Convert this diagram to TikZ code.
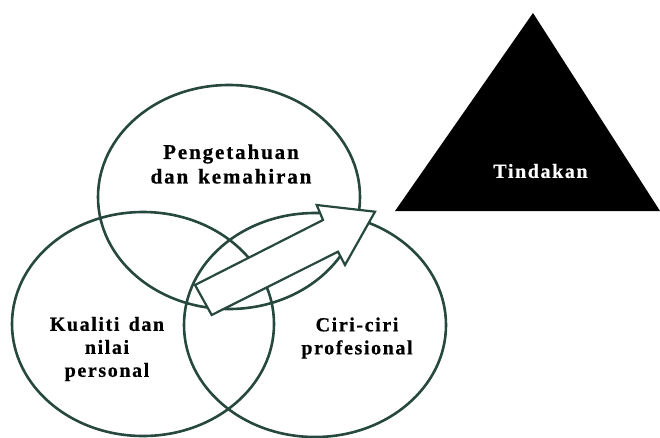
\documentclass[tikz,border=0pt]{standalone}
\usepackage{fontspec}
\usepackage{tikz}
\usetikzlibrary{shapes.geometric}
\usepackage{xcolor}
\setmainfont{Liberation Serif}
\newfontfamily\vennfont[LetterSpace=8, WordSpace=1.4, FakeBold=0.6]{Liberation Serif}
\newfontfamily\topfont[LetterSpace=9, WordSpace=1.4, FakeBold=0.6]{Liberation Serif}
\definecolor{venngreen}{RGB}{38, 72, 62}

\begin{document}
\begin{tikzpicture}[x=1pt, y=-1pt,
    vennset/.style={ellipse, draw=venngreen, line width=2.6pt,
        minimum width=262pt, minimum height=224pt, inner sep=0pt},
    vennlabel/.style={align=center, font=\fontsize{20}{23}\selectfont\vennfont\bfseries}]
            \useasboundingbox (0,0) rectangle (660,437);

            % three sets
            \node[vennset] (pengetahuan) at (229,197) {};
            \node[vennset] (kualiti) at (143,324) {};
            \node[vennset] (ciri) at (315,325) {};

            % block arrow
            \draw[venngreen, line width=2.2pt, fill=white, line join=miter]
                (211.7,315) -- (195,285) -- (323,220) -- (316.7,205)
                -- (375,211.7) -- (345,265) -- (338,251.7) -- cycle;

            % Tindakan
            \fill[black] (395,211) -- (533,13) -- (660,211) -- cycle;
            \node[white, font=\fontsize{20}{23}\selectfont\vennfont\bfseries] (tindakan) at (540.5,171) {Tindakan};

            % labels
            \node[vennlabel, font=\fontsize{21}{24.5}\selectfont\topfont\bfseries] (pengetahuantext) at (231,164) {Pengetahuan\\dan kemahiran};
            \node[vennlabel] (kualititext) at (107,349) {Kualiti dan\\nilai\\personal};
            \node[vennlabel] (ciritext) at (357,338) {Ciri-ciri\\profesional};
        \end{tikzpicture}
\end{document}
